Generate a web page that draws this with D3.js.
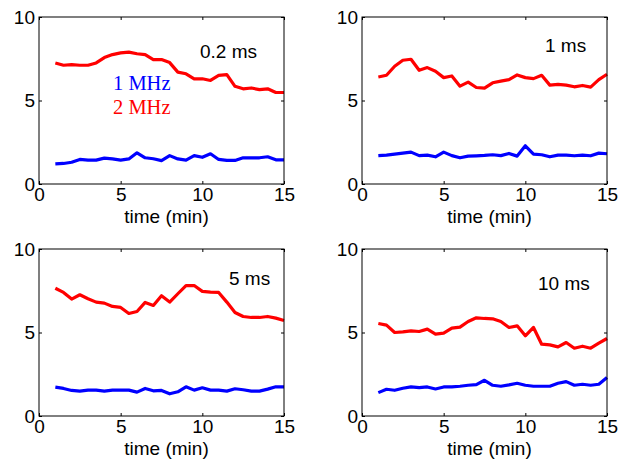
<!DOCTYPE html>
<html><head><meta charset="utf-8">
<script src="https://cdn.jsdelivr.net/npm/d3@7"></script>
<style>body{margin:0;background:#fff}svg{display:block}</style>
</head><body>
<script>
const times = [1,1.5,2,2.5,3,3.5,4,4.5,5,5.5,6,6.5,7,7.5,8,8.5,9,9.5,10,10.5,11,11.5,12,12.5,13,13.5,14,14.5,15];
const panelLabels = ["0.2 ms","1 ms","5 ms","10 ms"];
const seriesNames = ["1 MHz","2 MHz"];
const xTicks = [0,5,10,15];
const yTicks = [0,5,10];
const red02 = [7.25,7.11,7.15,7.11,7.11,7.25,7.57,7.75,7.85,7.9,7.8,7.75,7.45,7.45,7.27,6.7,6.6,6.3,6.3,6.2,6.5,6.55,5.85,5.7,5.75,5.65,5.7,5.48,5.48];
const blue02 = [1.2,1.23,1.3,1.47,1.43,1.43,1.55,1.5,1.43,1.5,1.87,1.57,1.51,1.4,1.7,1.5,1.43,1.7,1.6,1.81,1.47,1.41,1.41,1.57,1.57,1.57,1.63,1.45,1.45];
const red1 = [6.41,6.51,7.05,7.41,7.47,6.81,6.97,6.75,6.37,6.47,5.86,6.1,5.78,5.74,6.06,6.16,6.25,6.53,6.37,6.31,6.51,5.92,5.96,5.92,5.82,5.9,5.8,6.25,6.57];
const blue1 = [1.7,1.73,1.79,1.85,1.91,1.7,1.73,1.63,1.91,1.7,1.57,1.67,1.69,1.71,1.75,1.7,1.83,1.67,2.29,1.79,1.75,1.63,1.73,1.73,1.69,1.73,1.69,1.85,1.81];
const red5 = [7.65,7.4,7.0,7.26,7.02,6.82,6.76,6.56,6.5,6.14,6.26,6.8,6.62,7.2,6.82,7.32,7.81,7.81,7.46,7.42,7.4,6.82,6.2,5.96,5.9,5.9,5.96,5.86,5.72];
const blue5 = [1.73,1.65,1.53,1.49,1.55,1.55,1.49,1.55,1.55,1.55,1.43,1.65,1.51,1.53,1.33,1.45,1.75,1.55,1.69,1.55,1.55,1.49,1.63,1.57,1.49,1.49,1.61,1.75,1.75];
const red10 = [5.54,5.44,5.0,5.04,5.1,5.06,5.2,4.9,4.96,5.26,5.32,5.66,5.88,5.84,5.82,5.66,5.3,5.4,4.8,5.3,4.3,4.26,4.14,4.4,4.06,4.18,4.06,4.36,4.64];
const blue10 = [1.4,1.6,1.54,1.66,1.74,1.7,1.74,1.62,1.74,1.74,1.78,1.84,1.88,2.14,1.84,1.78,1.86,1.96,1.84,1.78,1.78,1.78,1.96,2.06,1.84,1.9,1.84,1.9,2.3];

const panels = [
  {label: panelLabels[0], red: red02, blue: blue02, x0: 39, y0: 17, lx: 161, ly: 41, legend: true},
  {label: panelLabels[1], red: red1, blue: blue1, x0: 362, y0: 17, lx: 183, ly: 35},
  {label: panelLabels[2], red: red5, blue: blue5, x0: 39, y0: 249, lx: 190, ly: 36},
  {label: panelLabels[3], red: red10, blue: blue10, x0: 362, y0: 249, lx: 176, ly: 41}
];
const W = 245, H = 167;
const svg = d3.select("body").append("svg").attr("width",620).attr("height",464);
const font = "'Liberation Sans', Arial, sans-serif";

panels.forEach(p => {
  const g = svg.append("g").attr("transform",`translate(${p.x0},${p.y0})`);
  const x = d3.scaleLinear().domain([0,15]).range([0,W]);
  const y = d3.scaleLinear().domain([0,10]).range([H,0]);
  const line = d3.line().x((d,i)=>x(times[i])).y(d=>y(d));
  g.append("path").datum(p.blue).attr("d",line).attr("fill","none").attr("stroke","#0000ff").attr("stroke-width",3.2).attr("stroke-linejoin","round");
  g.append("path").datum(p.red).attr("d",line).attr("fill","none").attr("stroke","#ff0000").attr("stroke-width",3.2).attr("stroke-linejoin","round");

  const styleAxis = sel => {
    sel.select(".domain").remove();
    sel.selectAll("line").attr("stroke","#000");
  };
  g.append("g").attr("transform",`translate(0,${H})`)
    .call(d3.axisBottom(x).tickValues(xTicks).tickSizeInner(-3).tickSizeOuter(0).tickPadding(8).tickFormat(d3.format("d")))
    .call(styleAxis)
    .call(s=>s.selectAll("text").attr("font-family",font).attr("font-size",19).attr("fill","#000").attr("dy","0.71em").attr("y",4));
  g.append("g").call(d3.axisTop(x).tickValues(xTicks).tickSizeInner(-3).tickSizeOuter(0).tickFormat(""))
    .call(styleAxis);
  g.append("g")
    .call(d3.axisLeft(y).tickValues(yTicks).tickSizeInner(-3).tickSizeOuter(0).tickPadding(7).tickFormat(d3.format("d")))
    .call(styleAxis)
    .call(s=>s.selectAll("text").attr("font-family",font).attr("font-size",19).attr("fill","#000").attr("x",-4));
  g.append("g").attr("transform",`translate(${W},0)`)
    .call(d3.axisRight(y).tickValues(yTicks).tickSizeInner(-3).tickSizeOuter(0).tickFormat(""))
    .call(styleAxis);
  g.append("rect").attr("width",W).attr("height",H).attr("fill","none").attr("stroke","#000").attr("stroke-width",1);

  g.append("text").attr("x",W/2+5).attr("y",H+39).attr("text-anchor","middle")
    .attr("font-family",font).attr("font-size",19).text("time (min)");
  g.append("text").attr("x",p.lx).attr("y",p.ly)
    .attr("font-family",font).attr("font-size",19).text(p.label);
  if (p.legend) {
    g.append("text").attr("x",74).attr("y",73).attr("font-family","'Liberation Serif', 'Times New Roman', serif")
      .attr("font-size",20.5).attr("fill","#0000ff").text(seriesNames[0]);
    g.append("text").attr("x",74).attr("y",97).attr("font-family","'Liberation Serif', 'Times New Roman', serif")
      .attr("font-size",20.5).attr("fill","#ff0000").text(seriesNames[1]);
  }
});
</script>
</body></html>
